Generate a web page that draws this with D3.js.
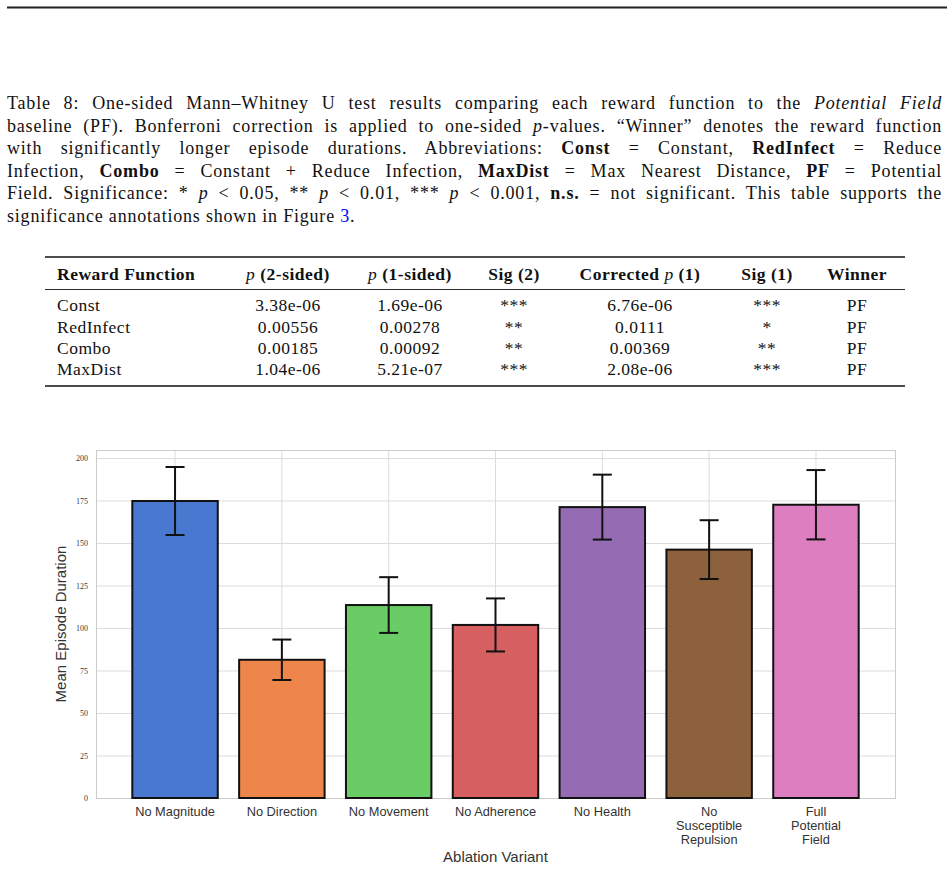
<!DOCTYPE html>
<html>
<head>
<meta charset="utf-8">
<script src="https://cdn.jsdelivr.net/npm/d3@7"></script>
<style>
  body { margin: 0; background: #fff; }
  #page { position: relative; width: 949px; height: 869px; overflow: hidden; background: #fff; }
  #viz { position: absolute; left: 0; top: 0; }
  #caption {
    position: absolute; left: 7px; top: 92px; width: 935px;
    font-family: "Liberation Serif", serif; font-size: 18px; line-height: 22.6px;
    letter-spacing: 0.8px; color: #111;
  }
  #caption div { text-align: justify; text-align-last: justify; }
  #caption div:last-child { text-align-last: left; }
</style>
</head>
<body>
<div id="page">
  <svg id="viz"></svg>
  <div id="caption"></div>
</div>
<script>
// ---- chart data ----
const variants = ["No Magnitude", "No Direction", "No Movement", "No Adherence",
                  "No Health", "No\nSusceptible\nRepulsion", "Full\nPotential\nField"];
const meanDuration = [174.7, 81.3, 113.5, 101.8, 171.1, 146.1, 172.5];
const errDuration  = [20.0, 11.9, 16.4, 15.6, 19.1, 17.3, 20.4];
const barColors = ["#4878d0", "#ee854a", "#6acc64", "#d65f5f", "#956cb4", "#8c613c", "#dc7ec0"];
const yTicks = [0, 25, 50, 75, 100, 125, 150, 175, 200];

// ---- table data ----
const rewardFns  = ["Const", "RedInfect", "Combo", "MaxDist"];
const pTwoSided  = ["3.38e-06", "0.00556", "0.00185", "1.04e-06"];
const pOneSided  = ["1.69e-06", "0.00278", "0.00092", "5.21e-07"];
const sigTwo     = ["***", "**", "**", "***"];
const pCorrected = ["6.76e-06", "0.0111", "0.00369", "2.08e-06"];
const sigOne     = ["***", "*", "**", "***"];
const winners    = ["PF", "PF", "PF", "PF"];

// caption, one array of pieces per printed line
const captionLines = [
  [["Table 8: One-sided Mann–Whitney U test results comparing each reward function to the "], ["Potential Field", "i"]],
  [["baseline (PF). Bonferroni correction is applied to one-sided "], ["p", "i"], ["-values. “Winner” denotes the reward function"]],
  [["with significantly longer episode durations.  Abbreviations: "], ["Const", "b"], [" = Constant, "], ["RedInfect", "b"], [" = Reduce"]],
  [["Infection, "], ["Combo", "b"], [" = Constant + Reduce Infection, "], ["MaxDist", "b"], [" = Max Nearest Distance, "], ["PF", "b"], [" = Potential"]],
  [["Field. Significance: * "], ["p", "i"], [" < 0.05, ** "], ["p", "i"], [" < 0.01, *** "], ["p", "i"], [" < 0.001, "], ["n.s.", "b"], [" = not significant. This table supports the"]],
  [["significance annotations shown in Figure "], ["3", "link"], ["."]]
];

const W = 949, H = 869;
const svg = d3.select("#viz").attr("width", W).attr("height", H);
const serif = '"Liberation Serif", serif';
const sans = '"Liberation Sans", Arial, sans-serif';

// top rule
svg.append("line")
  .attr("x1", 7).attr("x2", 947).attr("y1", 7.5).attr("y2", 7.5)
  .attr("stroke", "#222").attr("stroke-width", 1.8);

// caption
d3.select("#caption").selectAll("div")
  .data(captionLines)
  .enter()
  .append("div")
  .each(function(line) {
    const div = d3.select(this);
    line.forEach(([t, s]) => {
      const span = div.append("span").text(t);
      if (s === "i") span.style("font-style", "italic");
      if (s === "b") span.style("font-weight", "bold");
      if (s === "link") span.style("color", "#0000ff");
    });
  });

// ---- table ----
const table = svg.append("g")
  .attr("font-family", serif).attr("font-size", 17.5)
  .attr("letter-spacing", 0.5).attr("fill", "#111");
const tLeft = 45, tRight = 905;
const colX = [57, 288, 410, 514, 640, 767, 857];
const headerY = 280, rowY = [311, 332.5, 354, 375];

table.append("line").attr("x1", tLeft).attr("x2", tRight).attr("y1", 257).attr("y2", 257)
  .attr("stroke", "#111").attr("stroke-width", 1.6);
table.append("line").attr("x1", tLeft).attr("x2", tRight).attr("y1", 289.5).attr("y2", 289.5)
  .attr("stroke", "#111").attr("stroke-width", 0.9);
table.append("line").attr("x1", tLeft).attr("x2", tRight).attr("y1", 386).attr("y2", 386)
  .attr("stroke", "#111").attr("stroke-width", 1.6);

const headers = [
  [["Reward Function", "b"]],
  [["p", "i"], [" (2-sided)", "b"]],
  [["p", "i"], [" (1-sided)", "b"]],
  [["Sig (2)", "b"]],
  [["Corrected ", "b"], ["p", "i"], [" (1)", "b"]],
  [["Sig (1)", "b"]],
  [["Winner", "b"]]
];

table.selectAll("text.head")
  .data(headers)
  .enter()
  .append("text")
  .attr("class", "head")
  .attr("x", (d, i) => colX[i])
  .attr("y", headerY)
  .attr("text-anchor", (d, i) => i === 0 ? "start" : "middle")
  .each(function(parts) {
    const t = d3.select(this);
    parts.forEach(([s, f]) => {
      const ts = t.append("tspan").text(s);
      if (f === "b") ts.attr("font-weight", "bold");
      if (f === "i") ts.attr("font-style", "italic");
    });
  });

const columns = [rewardFns, pTwoSided, pOneSided, sigTwo, pCorrected, sigOne, winners];
columns.forEach((col, ci) => {
  table.selectAll("text.c" + ci)
    .data(col)
    .enter()
    .append("text")
    .attr("class", "c" + ci)
    .attr("x", colX[ci])
    .attr("y", (d, ri) => rowY[ri])
    .attr("text-anchor", ci === 0 ? "start" : "middle")
    .text(d => d);
});

// ---- bar chart ----
const plot = { left: 96, right: 895, top: 450, bottom: 798 };
const plotW = plot.right - plot.left, plotH = plot.bottom - plot.top;

const x = d3.scaleBand()
  .domain(variants)
  .range([plot.left, plot.right])
  .paddingInner(0.2)
  .paddingOuter(0.34);

const y = d3.scaleLinear()
  .domain([0, 204.7])
  .range([plot.bottom, plot.top]);

const chart = svg.append("g");

// horizontal grid
chart.append("g")
  .attr("transform", `translate(${plot.left},0)`)
  .call(d3.axisLeft(y).tickValues(yTicks).tickSize(-plotW).tickFormat(""))
  .call(g => g.select(".domain").remove())
  .call(g => g.selectAll(".tick line").attr("stroke", "#dcdcdc").attr("stroke-width", 1));

// vertical grid
chart.append("g")
  .attr("transform", `translate(0,${plot.bottom})`)
  .call(d3.axisBottom(x).tickSize(-plotH).tickFormat(""))
  .call(g => g.select(".domain").remove())
  .call(g => g.selectAll(".tick line").attr("stroke", "#dcdcdc").attr("stroke-width", 1));

// frame
chart.append("rect")
  .attr("x", plot.left + 0.5).attr("y", plot.top + 0.5)
  .attr("width", plotW).attr("height", plotH)
  .attr("fill", "none").attr("stroke", "#cccccc").attr("stroke-width", 1);

// bars
chart.selectAll("rect.bar")
  .data(variants)
  .enter()
  .append("rect")
  .attr("class", "bar")
  .attr("x", d => x(d))
  .attr("width", x.bandwidth())
  .attr("y", (d, i) => y(meanDuration[i]))
  .attr("height", (d, i) => y(0) - y(meanDuration[i]))
  .attr("fill", (d, i) => barColors[i])
  .attr("stroke", "#111")
  .attr("stroke-width", 2);

// error bars
const cap = 9.5;
const eb = chart.selectAll("g.err")
  .data(variants)
  .enter()
  .append("g")
  .attr("class", "err")
  .attr("stroke", "#111")
  .attr("stroke-width", 2);

eb.append("line")
  .attr("x1", d => x(d) + x.bandwidth() / 2)
  .attr("x2", d => x(d) + x.bandwidth() / 2)
  .attr("y1", (d, i) => y(meanDuration[i] - errDuration[i]))
  .attr("y2", (d, i) => y(meanDuration[i] + errDuration[i]));
eb.append("line")
  .attr("x1", d => x(d) + x.bandwidth() / 2 - cap)
  .attr("x2", d => x(d) + x.bandwidth() / 2 + cap)
  .attr("y1", (d, i) => y(meanDuration[i] + errDuration[i]))
  .attr("y2", (d, i) => y(meanDuration[i] + errDuration[i]));
eb.append("line")
  .attr("x1", d => x(d) + x.bandwidth() / 2 - cap)
  .attr("x2", d => x(d) + x.bandwidth() / 2 + cap)
  .attr("y1", (d, i) => y(meanDuration[i] - errDuration[i]))
  .attr("y2", (d, i) => y(meanDuration[i] - errDuration[i]));

// y tick labels
chart.append("g")
  .attr("transform", `translate(${plot.left},0)`)
  .call(d3.axisLeft(y).tickValues(yTicks).tickSize(0).tickPadding(8))
  .call(g => g.select(".domain").remove())
  .call(g => g.selectAll(".tick text")
    .attr("font-family", serif).attr("font-size", 8).attr("fill", "#3a3a3a"));

// x tick labels (multi-line)
chart.append("g")
  .attr("transform", `translate(0,${plot.bottom})`)
  .call(d3.axisBottom(x).tickSize(0).tickPadding(0).tickFormat(""))
  .call(g => g.select(".domain").remove())
  .call(g => g.selectAll(".tick").each(function(d) {
    const t = d3.select(this).append("text")
      .attr("fill", "#333")
      .attr("font-family", sans)
      .attr("font-size", 12.8)
      .attr("text-anchor", "middle")
      .attr("y", 18);
    d.split("\n").forEach((s, k) => {
      t.append("tspan").attr("x", 0).attr("dy", k === 0 ? 0 : 14).text(s);
    });
  }));

// axis titles
svg.append("text")
  .attr("x", (plot.left + plot.right) / 2)
  .attr("y", 862)
  .attr("text-anchor", "middle")
  .attr("font-family", sans).attr("font-size", 15).attr("fill", "#333")
  .text("Ablation Variant");

svg.append("text")
  .attr("transform", `translate(66,${(plot.top + plot.bottom) / 2}) rotate(-90)`)
  .attr("text-anchor", "middle")
  .attr("font-family", sans).attr("font-size", 15).attr("fill", "#333")
  .text("Mean Episode Duration");
</script>
</body>
</html>
